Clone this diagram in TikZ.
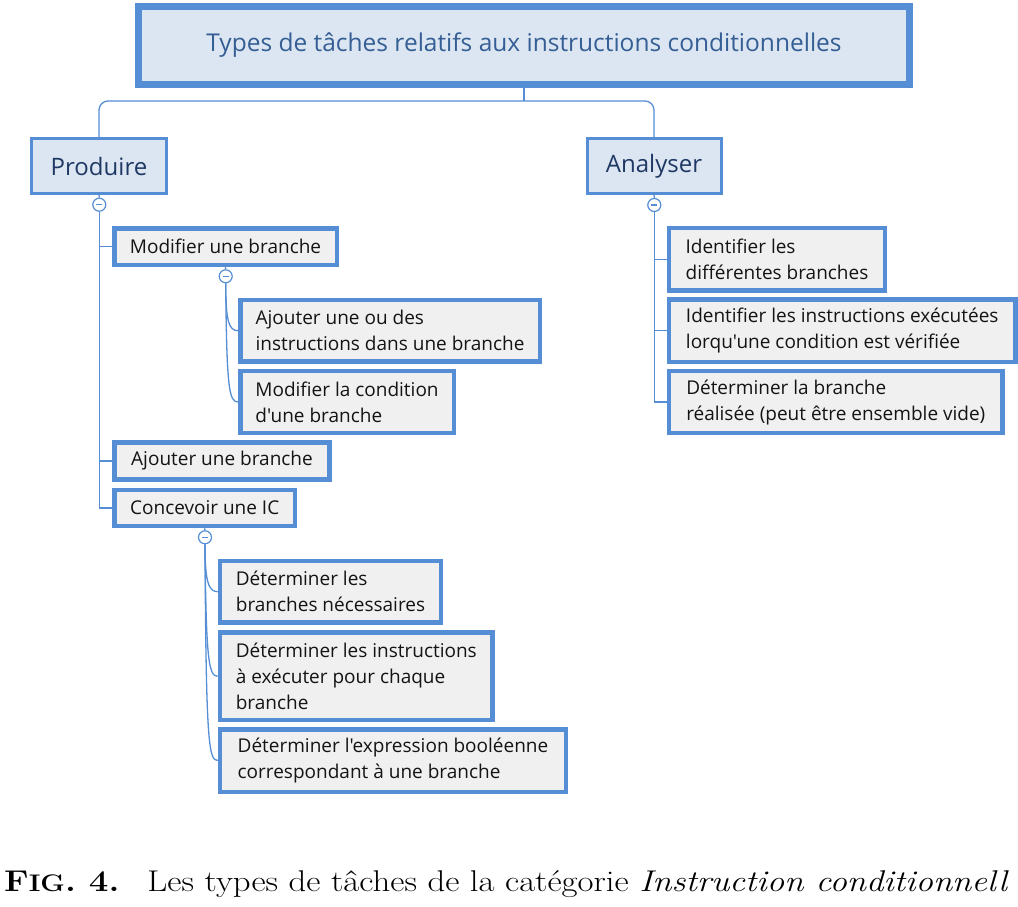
\documentclass[tikz,border=0pt]{standalone}
\usepackage{fontspec}
\usepackage{graphicx}
\newfontfamily\osans{Open Sans}
\usetikzlibrary{backgrounds}
\definecolor{bord}{RGB}{85,142,213}
\definecolor{topfill}{RGB}{220,230,242}
\definecolor{leaffill}{RGB}{240,240,240}
\definecolor{titletext}{RGB}{52,94,148}
\definecolor{navytext}{RGB}{31,56,100}
\definecolor{leaftext}{RGB}{20,20,20}
\tikzset{
  titlebox/.style={draw=bord, fill=topfill, line width=7pt, inner sep=0pt,
    text=titletext, font=\osans\fontsize{24.5}{30}\selectfont},
  catbox/.style={draw=bord, fill=topfill, line width=3pt, inner sep=0pt,
    text=navytext, font=\osans\fontsize{24}{30}\selectfont},
  leafbox/.style={draw=bord, fill=leaffill, line width=4.5pt, inner xsep=13.75pt, inner ysep=0pt,
    align=left, text=leaftext, font=\osans\fontsize{19}{26}\selectfont},
  toggle/.style={circle, draw=bord, fill=white, line width=1.2pt, minimum size=13pt, inner sep=0pt,
    path picture={\draw[bord, line width=1.2pt] ([xshift=-3pt]path picture bounding box.center) -- ([xshift=3pt]path picture bounding box.center);}},
  conn/.style={draw=bord, line width=1.3pt},
}
\begin{document}
\begin{tikzpicture}[x=1pt,y=-1pt]
\useasboundingbox (0,0) rectangle (1018,906);
% title
\node[titlebox, minimum width=771pt, minimum height=78pt] (title) at (524,45.5) {Types de tâches relatifs aux instructions conditionnelles};
% categories
\node[catbox, minimum width=135pt, minimum height=55pt] (P) at (99,166) {Produire};
\node[catbox, minimum width=134pt, minimum height=55pt] (A) at (654,166) {Analyser};
\coordinate (j) at (524,101);
% toggles
\node[toggle] (tP) at (99.3,204.7) {};
\node[toggle] (tA) at (654.3,205) {};
% Produire leaves
\node[leafbox, minimum width=222.5pt, minimum height=36.5pt] (mod) at (225.5,246.5) {Modifier une branche};
\node[toggle] (tM) at (225.7,276.3) {};
\node[leafbox, minimum width=299.5pt, minimum height=61.5pt] (ajdes) at (390,330.7) {Ajouter une ou des\\instructions dans une branche};
\node[leafbox, minimum width=213.5pt, minimum height=62pt] (modcond) at (347,402) {Modifier la condition\\d'une branche};
\node[leafbox, minimum width=215pt, minimum height=37pt] (ajbr) at (222,461) {Ajouter une branche};
\node[leafbox, minimum width=180.8pt, minimum height=36pt] (conc) at (204.7,508) {Concevoir une IC};
\node[toggle] (tC) at (205,537.3) {};
\node[leafbox, minimum width=221pt, minimum height=61.5pt] (detbr) at (330.5,591.7) {Déterminer les\\branches nécessaires};
\node[leafbox, minimum width=272.8pt, minimum height=87.5pt] (detins) at (356.3,676.3) {Déterminer les instructions\\à exécuter pour chaque\\branche};
\node[leafbox, minimum width=346pt, minimum height=62.5pt] (detexp) at (393,760.5) {Déterminer l'expression booléenne\\correspondant à une branche};
% Analyser leaves
\node[leafbox, minimum width=216pt, minimum height=62.5pt] (idbr) at (777,259.2) {Identifier les\\différentes branches};
\node[leafbox, minimum width=346.5pt, minimum height=62.5pt] (idins) at (842.2,330.8) {Identifier les instructions exécutées\\lorqu'une condition est vérifiée};
\node[leafbox, minimum width=333.8pt, minimum height=62pt] (detreal) at (835.8,402) {Déterminer la branche\\réalisée (peut être ensemble vide)};
% connectors
\begin{scope}[on background layer]
\draw[conn] (title.south) -- (j);
\draw[conn, rounded corners=9pt] (P.north) |- (j) -| (A.north);
\draw[conn] (P.south) -- (tP.north);
\draw[conn] (A.south) -- (tA.north);
\draw[conn] (tP.south) |- (mod.west);
\draw[conn] (tP.south) |- (ajbr.west);
\draw[conn] (tP.south) |- (conc.west);
\draw[conn] (mod.south) -- (tM.north);
\draw[conn] (tM.south) .. controls +(0,38) and +(-9,0) .. (ajdes.west);
\draw[conn] (tM.south) .. controls +(1,105) and +(-9,0) .. (modcond.west);
\draw[conn] (conc.south) -- (tC.north);
\draw[conn] (tC.south) .. controls +(0,38) and +(-9,0) .. (detbr.west);
\draw[conn] (tC.south) .. controls +(1,115) and +(-9,0) .. (detins.west);
\draw[conn] (tC.south) .. controls +(1,200) and +(-9,0) .. (detexp.west);
\draw[conn] (tA.south) |- (idbr.west);
\draw[conn] (tA.south) |- (idins.west);
\draw[conn] (tA.south) |- (detreal.west);
\end{scope}
% caption
\node[anchor=base west, inner sep=0pt, font=\fontsize{30}{36}\selectfont] (cap) at (4,891)
  {\scalebox{1.16}[1]{\textbf{F{\fontsize{24}{29}\selectfont IG}. 4.}\hspace{12pt} Les types de tâches de la catégorie \textit{Instruction conditionnell}}};
\end{tikzpicture}
\end{document}
